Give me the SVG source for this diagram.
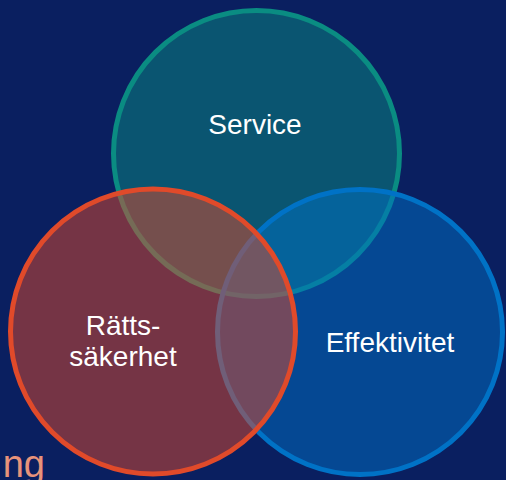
<svg xmlns="http://www.w3.org/2000/svg" width="506" height="480" viewBox="0 0 506 480">
  <style>
    .lbl { font-family: "Liberation Sans", Arial, sans-serif; font-size: 28px; fill: #ffffff; text-anchor: middle; }
    .ring { stroke-width: 5; }
  </style>
  <rect x="0" y="0" width="506" height="480" fill="#0a1f60"/>
  <text x="45" y="477" font-family="Liberation Sans, Arial, sans-serif" font-size="38" fill="#e8937a" text-anchor="end">ng</text>
  <g id="service">
    <circle class="ring" cx="256.5" cy="153.5" r="143" fill="#0a8c82" fill-opacity="0.5" stroke="#0a8c82"/>
    <text class="lbl" x="255" y="134">Service</text>
  </g>
  <g id="effektivitet">
    <circle class="ring" cx="360" cy="332" r="142.5" fill="#0072c6" fill-opacity="0.5" stroke="#0072c6"/>
    <text class="lbl" x="390" y="352">Effektivitet</text>
  </g>
  <g id="rattssakerhet">
    <circle class="ring" cx="153" cy="331.5" r="142.5" fill="#e04a2a" fill-opacity="0.5" stroke="#e04a2a"/>
    <text class="lbl" x="123" y="335">Rätts-</text>
    <text class="lbl" x="123" y="366">säkerhet</text>
  </g>
  <g id="connectors"/>
</svg>
